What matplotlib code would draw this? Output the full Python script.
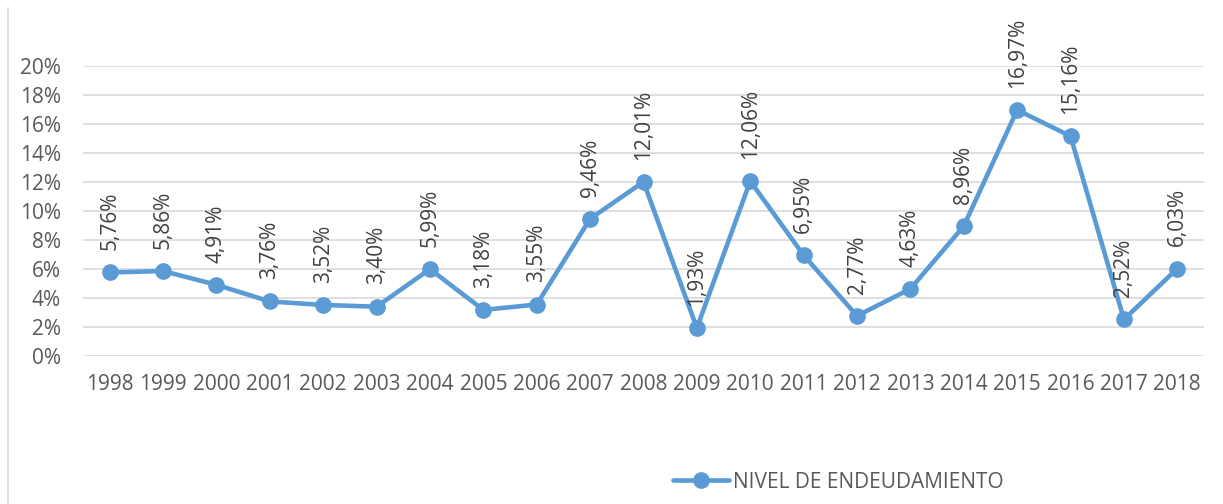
import matplotlib
matplotlib.use("Agg")
import matplotlib.pyplot as plt
from matplotlib.lines import Line2D

years = ["1998", "1999", "2000", "2001", "2002", "2003", "2004", "2005", "2006", "2007",
         "2008", "2009", "2010", "2011", "2012", "2013", "2014", "2015", "2016", "2017", "2018"]
values = [5.76, 5.86, 4.91, 3.76, 3.52, 3.40, 5.99, 3.18, 3.55, 9.46,
          12.01, 1.93, 12.06, 6.95, 2.77, 4.63, 8.96, 16.97, 15.16, 2.52, 6.03]
yticks = [0, 2, 4, 6, 8, 10, 12, 14, 16, 18, 20]
series_name = "NIVEL DE ENDEUDAMIENTO"

plt.rcParams['font.family'] = ['Open Sans', 'DejaVu Sans']
W, H = 1223, 504
fig = plt.figure(figsize=(W / 100, H / 100), dpi=100)
ax = fig.add_axes([83 / W, 1 - 356 / H, (1204 - 83) / W, (356 - 66) / H])

color = '#5B9BD5'
x = list(range(len(years)))
ax.plot(x, values, color=color, lw=3.3, marker='o', ms=11, label=series_name,
        solid_capstyle='round', zorder=3)

for xi, v in zip(x, values):
    ax.annotate(f"{v:.2f}%".replace('.', ','), (xi, v), xytext=(0, 16),
                textcoords='offset points', rotation=90, ha='center', va='bottom',
                fontsize=15, color='#404040', zorder=4)

ax.set_xlim(-0.5, len(years) - 0.5)
ax.set_ylim(0, 20)
ax.set_yticks(yticks)
ax.set_yticklabels([f"{t}%" for t in yticks])
ax.set_xticks(x)
ax.set_xticklabels(years)
ax.grid(axis='y', color='#D9D9D9', lw=1.2)
ax.set_axisbelow(True)
for s in ax.spines.values():
    s.set_visible(False)
ax.tick_params(axis='both', length=0, labelsize=15, colors='#595959')
ax.tick_params(axis='y', pad=16)
ax.tick_params(axis='x', pad=13)

fig.add_artist(Line2D([8 / W, 8 / W], [0, 1 - 8 / H], color='#D9D9D9', lw=1.2))

leg = fig.legend(loc='center left', bbox_to_anchor=(673 / W, 1 - 482 / H), frameon=False,
                 fontsize=15, handlelength=2.7, handletextpad=0.2, borderaxespad=0,
                 borderpad=0)
for t in leg.get_texts():
    t.set_color('#595959')

fig.savefig('out.png', dpi=100)
